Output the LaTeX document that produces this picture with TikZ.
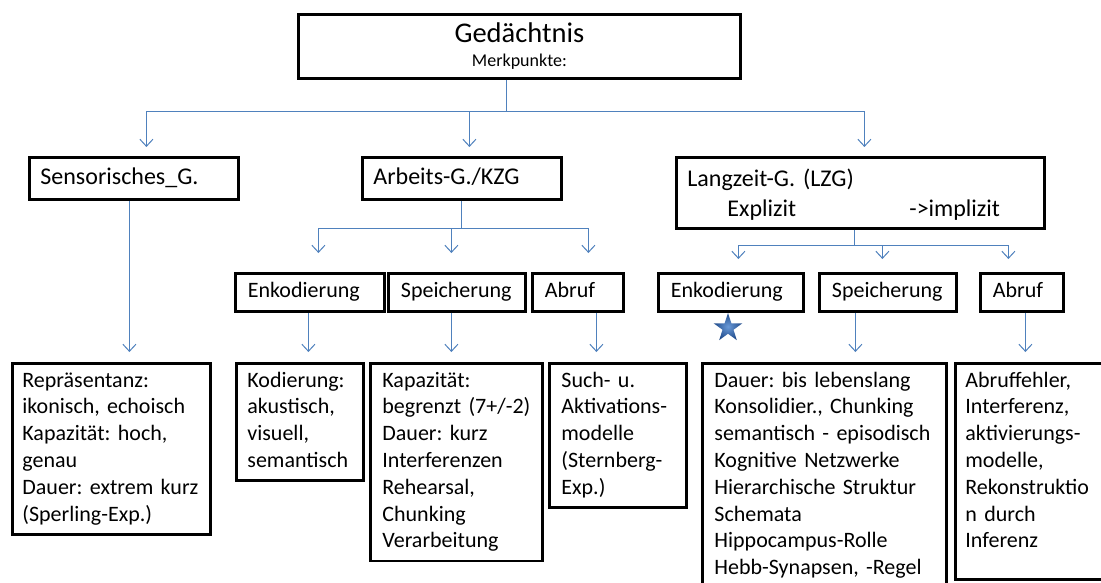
\documentclass[tikz,border=0pt]{standalone}
\usepackage{fontspec}
\setmainfont{Carlito}
\usetikzlibrary{arrows.meta,shapes.geometric}
\hyphenpenalty=10000
\exhyphenpenalty=10000
\frenchspacing
\definecolor{conncol}{HTML}{4F81BD}
\definecolor{stardark}{HTML}{1F4A8A}
\definecolor{starlight}{HTML}{6A9AD8}
\begin{document}
\frenchspacing
\begin{tikzpicture}[x=1pt,y=-1pt,
  box/.style={draw=black, line width=2.8pt, rectangle, anchor=north west, align=left},
  lone/.style={box, font=\frenchspacing\fontsize{24}{29}\selectfont, inner xsep=11pt, inner ysep=0pt, minimum height=42pt,
    execute at begin node=\strut},
  ltwo/.style={box, font=\frenchspacing\fontsize{22}{26.8}\selectfont, inner xsep=12.5pt, inner ysep=0pt, minimum height=38pt,
    execute at begin node=\strut},
  lthree/.style={box, font=\frenchspacing\fontsize{22}{26.8}\selectfont, inner xsep=12pt, inner ysep=5pt,
    execute at begin node=\strut, execute at end node=\strut},
  conn/.style={draw=conncol, line width=1pt},
  arr/.style={conn, -{Straight Barb[length=7pt,width=13pt]}}
]
\fill[white] (0,0) rectangle (1101,583);
\useasboundingbox (0,0) rectangle (1101,583);

% title
\node[box, minimum width=442pt, minimum height=64pt, text width=420pt, align=center, inner sep=0pt,
  font=\fontsize{18}{24}\selectfont] (top) at (297,13)
  {{\fontsize{28.5}{30}\selectfont Gedächtnis}\\Merkpunkte:};

% level 1
\node[lone, minimum width=209pt, text width=187pt] (sens) at (28,156) {Sensorisches\_G.};
\node[lone, minimum width=199pt, text width=177pt] (arb) at (361,156) {Arbeits-G./KZG};
\node[box, font=\frenchspacing\fontsize{24}{30}\selectfont, inner xsep=11pt, inner ysep=0pt, minimum width=368pt, text width=346pt,
  minimum height=71pt, text height=27pt, execute at end node=\strut] (lzg) at (675,156)
  {Langzeit-G. (LZG)\\\hspace*{40pt}\makebox[182pt][l]{Explizit}->implizit};

% level 2
\node[ltwo, minimum width=149pt, text width=124pt] (agenk) at (234,272) {Enkodierung};
\node[ltwo, minimum width=137pt, text width=112pt] (agsp) at (387,272) {Speicherung};
\node[ltwo, minimum width=91pt, text width=66pt] (agab) at (531,272) {Abruf};
\node[ltwo, minimum width=145pt, text width=120pt] (lzenk) at (657,272) {Enkodierung};
\node[ltwo, minimum width=137pt, text width=112pt] (lzsp) at (818,272) {Speicherung};
\node[ltwo, minimum width=83pt, text width=58pt] (lzab) at (979,272) {Abruf};

% level 3
\node[lthree, inner xsep=10pt, minimum width=198pt, text width=178pt] (rep) at (11,362)
  {Repräsentanz:\\ikonisch, echoisch\\Kapazität: hoch,\\genau\\Dauer: extrem kurz\\(Sperling-Exp.)};
\node[lthree, inner xsep=11pt, minimum width=127pt, text width=105pt] (kod) at (235,362)
  {Kodierung:\\akustisch,\\visuell,\\semantisch};
\node[lthree, minimum width=172pt, text width=148pt] (kap) at (369,362)
  {Kapazität:\\begrenzt (7+/-2)\\Dauer: kurz\\Interferenzen\\Rehearsal,\\Chunking\\Verarbeitung};
\node[lthree, minimum width=137pt, text width=113pt] (such) at (548,362)
  {Such- u.\\Aktivations-\\modelle\\(Sternberg-\\Exp.)};
\node[lthree, minimum width=244pt, text width=220pt] (dauer) at (701,362)
  {Dauer: bis lebenslang\\Konsolidier., Chunking\\semantisch - episodisch\\Kognitive Netzwerke\\Hierarchische Struktur\\Schemata\\Hippocampus-Rolle\\Hebb-Synapsen, -Regel};
\node[lthree, inner xsep=10pt, minimum width=200pt, text width=180pt, text depth=187pt] (abf) at (954,362)
  {Abruffehler,\\Interferenz,\\aktivierungs-\\modelle,\\Rekonstruktio\\n durch\\Inferenz};

% star
\node[star, star points=5, star point ratio=2.6, minimum size=30pt, inner sep=0pt,
  shade, shading=radial, inner color=starlight, outer color=stardark] (star) at (728,328) {};

% connectors: top bus
\coordinate (b0) at (506,112);
\draw[conn] (b0 |- top.south) -- (b0);
\draw[arr, shorten >=9pt] (b0) -| ([xshift=12.5pt]sens.north);
\draw[arr, shorten >=9pt] (b0) -| ([xshift=7.5pt]arb.north);
\draw[arr, shorten >=9pt] (b0) -| ([xshift=4pt]lzg.north);

% Arbeits bus
\coordinate (b1) at (461,228);
\draw[conn] (b1 |- arb.south) -- (b1);
\draw[arr, shorten >=19pt] (b1) -| ([xshift=8.5pt]agenk.north);
\draw[arr, shorten >=19pt] (b1) -| ([xshift=-5.5pt]agsp.north);
\draw[arr, shorten >=19pt] (b1) -| ([xshift=10.5pt]agab.north);

% Langzeit bus
\coordinate (b2) at (854,245);
\draw[conn] (b2 |- lzg.south) -- (b2);
\draw[arr, shorten >=13pt] (b2) -| ([xshift=7.5pt]lzenk.north);
\draw[arr, shorten >=13pt] (b2) -| ([xshift=-5.5pt]lzsp.north);
\draw[arr, shorten >=13pt] (b2) -| ([xshift=-13.5pt]lzab.north);

% down to detail boxes
\draw[arr, shorten >=10pt] ([xshift=-4.5pt]sens.south) -- ([xshift=-4.5pt]sens.south |- rep.north);
\draw[arr, shorten >=10pt] ([xshift=-1.5pt]agenk.south) -- ([xshift=-1.5pt]agenk.south |- kod.north);
\draw[arr, shorten >=10pt] ([xshift=-5.5pt]agsp.south) -- ([xshift=-5.5pt]agsp.south |- kap.north);
\draw[arr, shorten >=10pt] ([xshift=18.5pt]agab.south) -- ([xshift=18.5pt]agab.south |- such.north);
\draw[arr, shorten >=10pt] ([xshift=-32.5pt]lzsp.south) -- ([xshift=-32.5pt]lzsp.south |- dauer.north);
\draw[arr, shorten >=10pt] ([xshift=3.5pt]lzab.south) -- ([xshift=3.5pt]lzab.south |- abf.north);
\end{tikzpicture}
\end{document}
